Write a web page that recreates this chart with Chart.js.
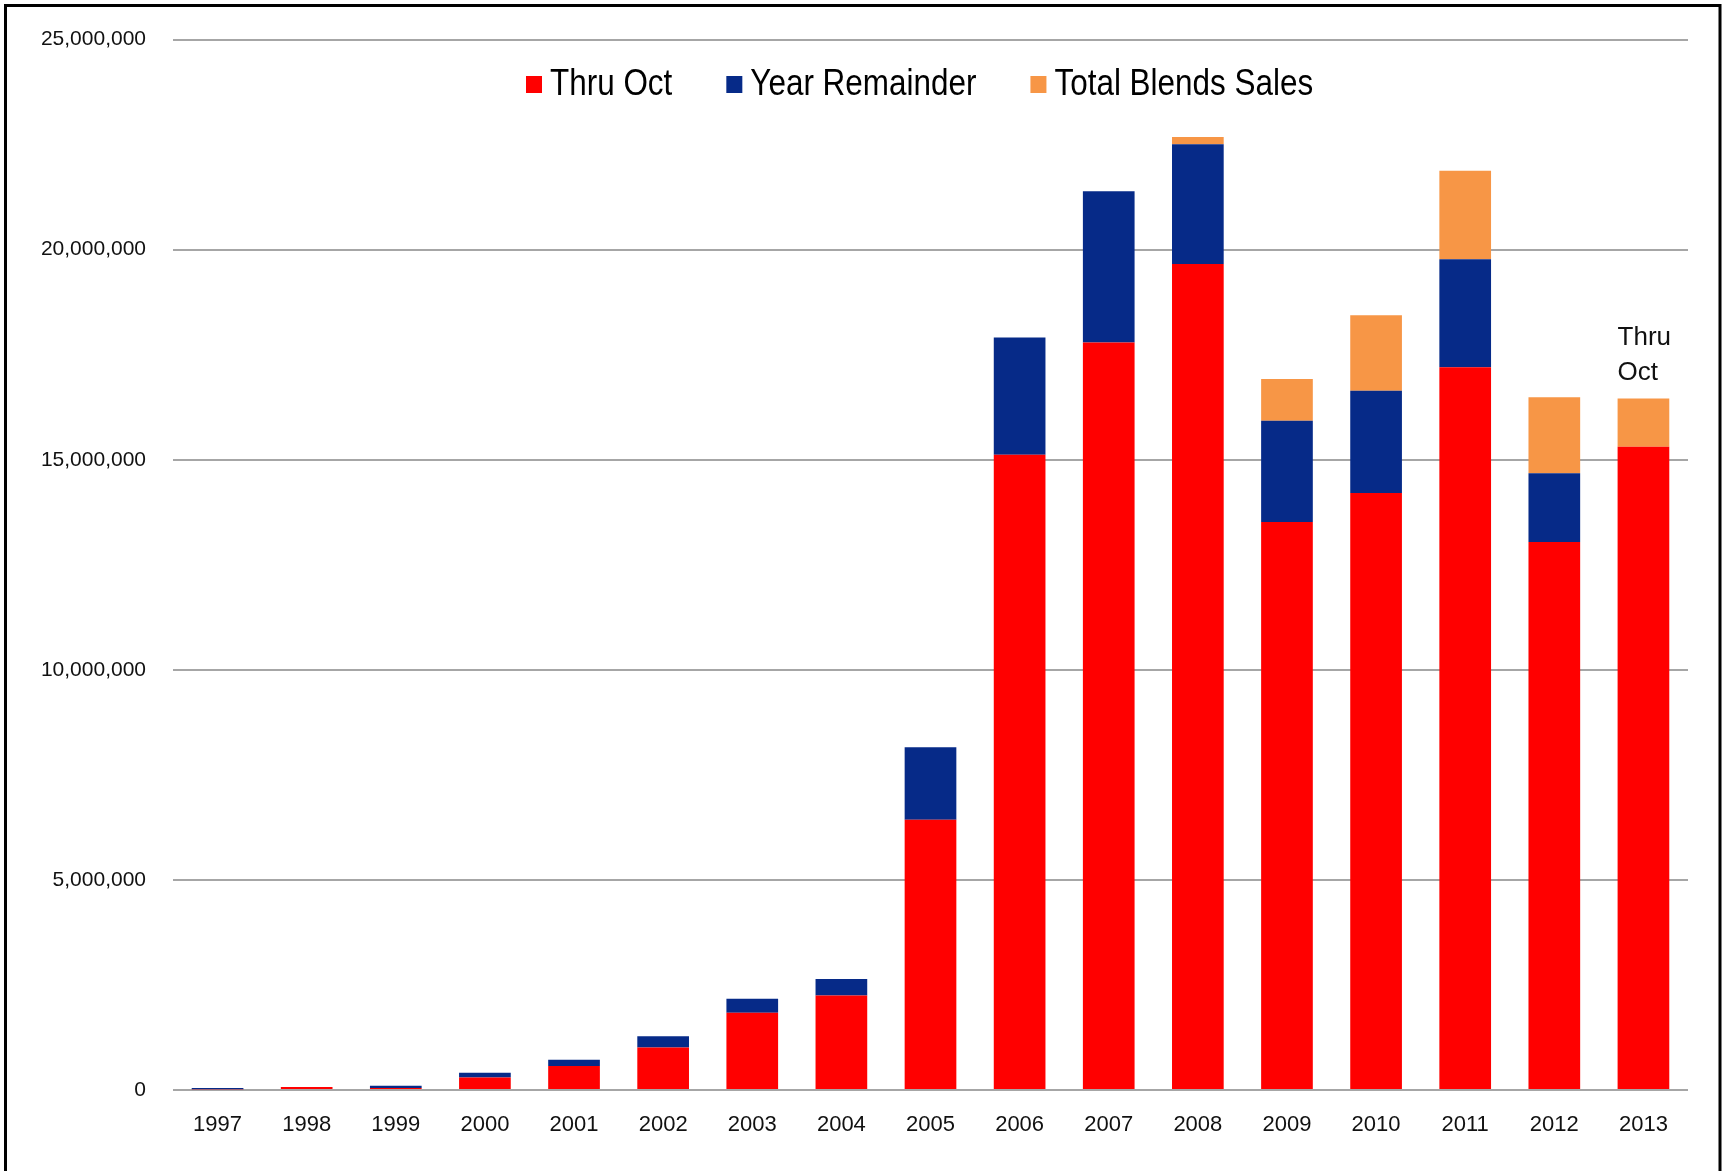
<!DOCTYPE html>
<html>
<head>
<meta charset="utf-8">
<script src="https://cdn.jsdelivr.net/npm/chart.js@4/dist/chart.umd.min.js"></script>
<style>
  html, body { margin: 0; padding: 0; background: #fff; }
  #wrap { width: 1726px; height: 1171px; }
</style>
</head>
<body>
<div id="wrap"><canvas id="c" width="1726" height="1171"></canvas></div>
<script>
const years = ['1997','1998','1999','2000','2001','2002','2003','2004','2005','2006','2007','2008','2009','2010','2011','2012','2013'];
const thruOct = [15000, 70000, 50000, 300000, 570000, 1010000, 1840000, 2250000, 6430000, 15120000, 17790000, 19660000, 13520000, 14210000, 17200000, 13040000, 15310000];
const yearRemainder = [30000, 0, 50000, 110000, 150000, 270000, 330000, 390000, 1730000, 2790000, 3600000, 2850000, 2410000, 2430000, 2570000, 1640000, 0];
const totalBlendsSales = [0, 0, 0, 0, 0, 0, 0, 0, 0, 0, 0, 170000, 990000, 1800000, 2110000, 1810000, 1150000];
const seriesNames = ['Thru Oct', 'Year Remainder', 'Total Blends Sales'];
const yTicks = [0, 5000000, 10000000, 15000000, 20000000, 25000000];
const noteLines = ['Thru', 'Oct'];

const colors = ['#FF0000', '#062A88', '#F79646'];

const bgPlugin = {
  id: 'bg',
  beforeDraw(chart) {
    const ctx = chart.ctx;
    ctx.save();
    ctx.fillStyle = '#fff';
    ctx.fillRect(0, 0, chart.width, chart.height);
    ctx.restore();
  }
};

const decorPlugin = {
  id: 'decor',
  afterDraw(chart) {
    const ctx = chart.ctx;
    ctx.save();
    // legend (condensed text)
    const ds = chart.data.datasets;
    const sx = 0.85;
    ctx.font = '37px "Liberation Sans", sans-serif';
    ctx.textBaseline = 'middle';
    ctx.textAlign = 'left';
    let x = 526;
    const cy = 84;
    ds.forEach((d, i) => {
      ctx.fillStyle = d.backgroundColor;
      ctx.fillRect(x, cy - 8, 16, 17);
      x += 24;
      ctx.fillStyle = '#000';
      ctx.save();
      ctx.translate(x, cy + 1);
      ctx.scale(sx, 1);
      ctx.fillText(d.label, 0, 0);
      ctx.restore();
      x += ctx.measureText(d.label).width * sx + 54;
    });
    // annotation above last bar
    const meta = chart.getDatasetMeta(2);
    const el = meta.data[meta.data.length - 1];
    if (el) {
      const left = el.x - el.width / 2;
      ctx.font = '26px "Liberation Sans", sans-serif';
      ctx.textBaseline = 'alphabetic';
      ctx.fillStyle = '#111';
      ctx.fillText(noteLines[0], left, el.y - 53);
      ctx.fillText(noteLines[1], left, el.y - 18);
    }
    // frame
    ctx.strokeStyle = '#000';
    ctx.lineWidth = 3;
    ctx.beginPath();
    ctx.moveTo(5.5, 1171);
    ctx.lineTo(5.5, 5.5);
    ctx.lineTo(1720, 5.5);
    ctx.lineTo(1720, 1171);
    ctx.stroke();
    ctx.restore();
  }
};

new Chart(document.getElementById('c'), {
  type: 'bar',
  data: {
    labels: years,
    datasets: [
      { label: seriesNames[0], data: thruOct, backgroundColor: colors[0] },
      { label: seriesNames[1], data: yearRemainder, backgroundColor: colors[1] },
      { label: seriesNames[2], data: totalBlendsSales, backgroundColor: colors[2] }
    ]
  },
  options: {
    responsive: false,
    animation: false,
    devicePixelRatio: 1,
    layout: { padding: { top: 37, right: 38, left: 0, bottom: 0 } },
    datasets: { bar: { categoryPercentage: 1, barPercentage: 0.58, borderWidth: 0 } },
    plugins: { legend: { display: false }, tooltip: { enabled: false } },
    scales: {
      x: {
        stacked: true,
        grid: { display: false },
        border: { display: false },
        ticks: { color: '#111', font: { family: 'Liberation Sans', size: 22 }, padding: 14, maxRotation: 0 },
        afterFit(scale) { scale.height = 81; }
      },
      y: {
        stacked: true,
        min: 0,
        max: 25000000,
        afterBuildTicks(scale) { scale.ticks = yTicks.map(v => ({ value: v })); },
        grid: { color: '#a6a6a6', lineWidth: 2, drawTicks: false },
        border: { display: false },
        ticks: {
          color: '#111',
          font: { family: 'Liberation Sans', size: 21 },
          padding: 27,
          callback: v => Number(v).toLocaleString('en-US')
        },
        afterFit(scale) { scale.width = 173; }
      }
    }
  },
  plugins: [bgPlugin, decorPlugin]
});
</script>
</body>
</html>
